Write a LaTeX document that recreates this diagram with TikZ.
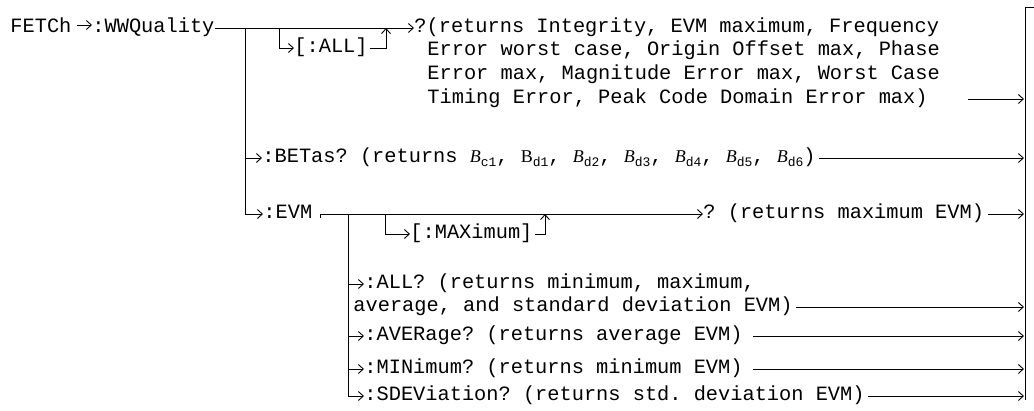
\documentclass[tikz,border=0pt]{standalone}
\usepackage{fontspec}
\setmonofont{Liberation Mono}
\newfontfamily\serifB{Liberation Serif}
\usetikzlibrary{arrows.meta,calc}
\newcommand\mono{\ttfamily\fontsize{20.33}{24}\selectfont}
\newcommand\Bi[1]{{\serifB\fontsize{18}{18}\selectfont\itshape B}\raisebox{-4pt}{\fontsize{13}{13}\selectfont #1}}
\newcommand\Bu[1]{{\serifB\fontsize{18}{18}\selectfont B}\raisebox{-4pt}{\fontsize{13}{13}\selectfont #1}}
\tikzset{
  txt/.style={font=\mono, anchor=west, inner sep=0pt, text height=8pt, text depth=0pt},
  arr/.style={-{Straight Barb[length=5pt,width=9pt]}},
  every path/.style={line width=0.9pt}
}
\begin{document}
\begin{tikzpicture}[x=1pt,y=1pt]
\useasboundingbox (0,0) rectangle (1034,-410);
% text nodes
\node[txt] (fetch) at (10,-28) {FETCh};
\node[txt] (wwq) at (92,-28) {:WWQuality};
\node[txt] (q1) at (414,-28) {?(returns Integrity, EVM maximum, Frequency};
\node[txt] (q2) at (427,-51) {Error worst case, Origin Offset max, Phase};
\node[txt] (q3) at (427,-75) {Error max, Magnitude Error max, Worst Case};
\node[txt] (q4) at (427,-99) {Timing Error, Peak Code Domain Error max)};
\node[txt] (allopt) at (294,-48) {[:ALL]};
\node[txt] (betas) at (262,-158) {:BETas? (returns \Bi{c1}, \Bu{d1}, \Bi{d2}, \Bi{d3}, \Bi{d4}, \Bi{d5}, \Bi{d6})};
\node[txt] (evm) at (263,-214) {:EVM};
\node[txt] (maxopt) at (410,-234) {[:MAXimum]};
\node[txt] (evmq) at (703,-214) {? (returns maximum EVM)};
\node[txt] (eall1) at (364,-284) {:ALL? (returns minimum, maximum,};
\node[txt] (eall2) at (353,-307) {average, and standard deviation EVM)};
\node[txt] (eavg) at (364,-336) {:AVERage? (returns average EVM)};
\node[txt] (emin) at (364,-369) {:MINimum? (returns minimum EVM)};
\node[txt] (esdev) at (364,-396) {:SDEViation? (returns std. deviation EVM)};
% junction coordinates
\coordinate (bar) at (1024,0);
\coordinate (v1) at (245,-28);
\coordinate (a1) at (279,-28);
\coordinate (a2) at (386,-28);
\coordinate (e0) at (320,-214);
\coordinate (m1) at (385,-214);
\coordinate (m2) at (545,-214);
\coordinate (v2) at (348,-214);
% connectors
\draw[arr] ([xshift=5pt,yshift=3pt]fetch.east) -- ([yshift=3pt]wwq.west);
\draw[arr] (wwq.east) -- (q1.west);
\draw[arr] (a1) |- (allopt.west);
\draw[arr] ([xshift=2pt]allopt.east) -| (a2);
\draw[arr] ([xshift=40pt]q4.east) -- (q4.east -| bar);
\draw[arr] (v1) |- (betas.west);
\draw[arr] (v1) |- (evm.west);
\draw[arr] ([xshift=3pt]betas.east) -- (betas.east -| bar);
\draw ([yshift=-4pt]e0) -- (e0);
\draw[arr] (e0) -- (evmq.west);
\draw[arr] (m1) |- (maxopt.west);
\draw[arr] ([xshift=2pt]maxopt.east) -| (m2);
\draw[arr] ([xshift=3pt]evmq.east) -- (evmq.east -| bar);
\draw[arr] (v2) |- (eall1.west);
\draw[arr] (v2) |- (eavg.west);
\draw[arr] (v2) |- (emin.west);
\draw[arr] (v2) |- (esdev.west);
\draw[arr] ([xshift=3pt]eall2.east) -- (eall2.east -| bar);
\draw[arr] ([xshift=10pt]eavg.east) -- (eavg.east -| bar);
\draw[arr] ([xshift=10pt]emin.east) -- (emin.east -| bar);
\draw[arr] ([xshift=3pt]esdev.east) -- (esdev.east -| bar);
\draw (1034,-7) -| (1025,-400);
\end{tikzpicture}
\end{document}
